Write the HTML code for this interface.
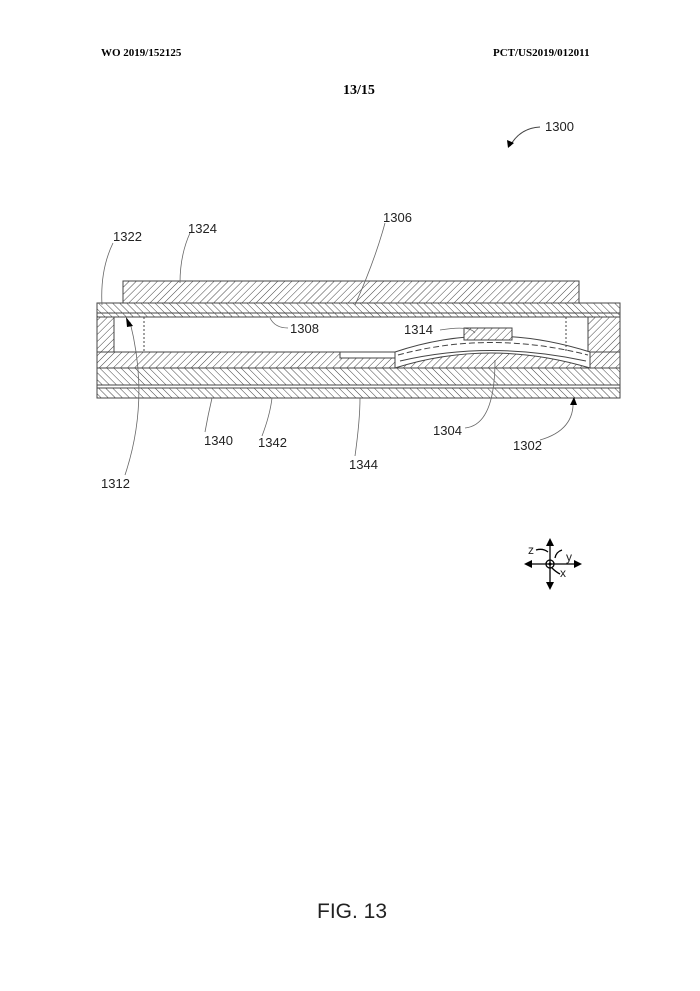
<!DOCTYPE html>
<html><head><style>
body{margin:0;background:#fff;}
svg{display:block;}
text{font-family:"Liberation Sans",sans-serif;font-size:13px;fill:#222;}
.s{font-family:"Liberation Serif",serif;font-weight:bold;font-size:11px;fill:#000;}
</style></head><body>
<svg width="700" height="991" viewBox="0 0 700 991" xmlns="http://www.w3.org/2000/svg">
<defs>
<pattern id="h" width="5" height="5" patternUnits="userSpaceOnUse" patternTransform="rotate(45)">
<rect width="5" height="5" fill="#fff"/><line x1="0" y1="0" x2="0" y2="5" stroke="#444" stroke-width="1"/></pattern>
<pattern id="h2" width="5" height="5" patternUnits="userSpaceOnUse" patternTransform="rotate(-45)">
<rect width="5" height="5" fill="#fff"/><line x1="0" y1="0" x2="0" y2="5" stroke="#444" stroke-width="1"/></pattern>
</defs>
<text class="s" x="101" y="56">WO 2019/152125</text>
<text class="s" x="493" y="56">PCT/US2019/012011</text>
<text class="s" x="343" y="94" style="font-size:14px">13/15</text>
<text x="545" y="131">1300</text>
<path d="M540,127 Q520,128 510,146" fill="none" stroke="#444"/>
<polygon points="508,148 507,140 514,143" fill="#000"/>
<g stroke="#444" stroke-width="1">
<rect x="123" y="281" width="456" height="22" fill="url(#h)"/>
<rect x="97" y="303" width="523" height="14" fill="url(#h2)"/>
<line x1="97" y1="313" x2="620" y2="313"/>
<rect x="97" y="317" width="17" height="36" fill="url(#h)"/>
<rect x="588" y="317" width="32" height="36" fill="url(#h)"/>
<rect x="97" y="352" width="523" height="16" fill="url(#h)"/>
<rect x="97" y="368" width="523" height="17" fill="url(#h2)"/>
<rect x="97" y="385" width="523" height="3" fill="#fff"/>
<rect x="97" y="388" width="523" height="10" fill="url(#h2)"/>
<rect x="340" y="352" width="65" height="6" fill="#fff"/>
<path d="M395,352 Q490,320 590,352 L590,368 Q490,338 395,368 Z" fill="#fff"/>
<path d="M398,355 Q490,330 588,355" fill="none" stroke-dasharray="6,3"/>
<path d="M400,361 Q490,340 586,361" fill="none"/>
<rect x="464" y="328" width="48" height="12" fill="url(#h)"/>
<line x1="144" y1="317" x2="144" y2="352" stroke-dasharray="2,2"/>
<line x1="566" y1="317" x2="566" y2="352" stroke-dasharray="2,2"/>
</g>
<g fill="none" stroke="#666" stroke-width="0.8">
<path d="M113,243 Q100,270 102,305"/>
<path d="M190,233 Q180,255 180,283"/>
<path d="M385,223 Q375,260 355,305"/>
<path d="M288,328 Q275,328 270,318"/>
<path d="M440,330 Q470,325 475,333"/>
<path d="M130,322 Q150,400 125,475"/>
<path d="M205,432 Q208,415 212,398"/>
<path d="M262,436 Q270,415 272,398"/>
<path d="M355,456 Q360,420 360,398"/>
<path d="M465,428 Q495,425 495,360"/>
<path d="M540,440 Q575,430 573,400"/>
</g>
<polygon points="126,317 133,326 127,327" fill="#000"/>
<polygon points="574,397 570,405 577,405" fill="#000"/>
<text x="113" y="241">1322</text>
<text x="188" y="233">1324</text>
<text x="383" y="222">1306</text>
<text x="290" y="333">1308</text>
<text x="404" y="334">1314</text>
<text x="204" y="445">1340</text>
<text x="258" y="447">1342</text>
<text x="349" y="469">1344</text>
<text x="433" y="435">1304</text>
<text x="513" y="450">1302</text>
<text x="101" y="488">1312</text>
<g stroke="#000" stroke-width="1.3" fill="none">
<line x1="550" y1="540" x2="550" y2="588"/>
<line x1="526" y1="564" x2="580" y2="564"/>
<circle cx="550" cy="564" r="4"/>
<path d="M536,550 Q543,548 548,552"/>
<path d="M555,558 Q556,552 562,550"/>
<path d="M552,568 Q556,572 560,574"/>
</g>
<polygon points="550,538 546,546 554,546" fill="#000"/>
<polygon points="550,590 546,582 554,582" fill="#000"/>
<polygon points="524,564 532,560 532,568" fill="#000"/>
<polygon points="582,564 574,560 574,568" fill="#000"/>
<circle cx="550" cy="564" r="1.5" fill="#000"/>
<text x="528" y="554" style="font-size:12px">z</text>
<text x="566" y="561" style="font-size:12px">y</text>
<text x="560" y="577" style="font-size:12px">x</text>
<text x="317" y="918" style="font-size:21px">FIG. 13</text>
</svg>
</body></html>
